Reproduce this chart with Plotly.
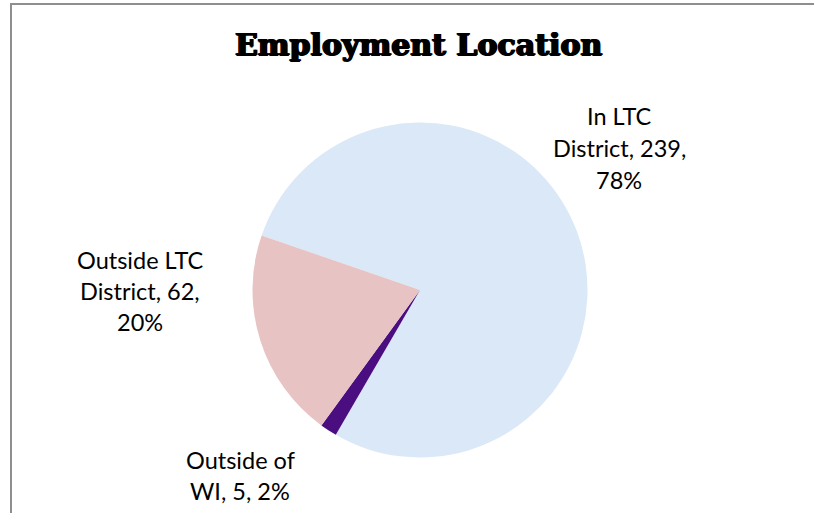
import plotly.graph_objects as go

# Employment location counts (clockwise order from the start angle)
categories = ["In LTC District", "Outside of WI", "Outside LTC District"]
counts = [239, 5, 62]
# line breaks used when printing each category's label
label_lines = [["In LTC", "District"], ["Outside of", "WI"], ["Outside LTC", "District"]]

colors = ["#DAE8F8", "#4A0E80", "#E8C3C3"]

W, H = 814, 513
total = sum(counts)
percents = [round(c / total * 100) for c in counts]

# pie geometry in pixels
cx, cy, r = 420, 290, 167.5

fig = go.Figure(
    go.Pie(
        labels=categories,
        values=counts,
        sort=False,
        direction="clockwise",
        rotation=-71,
        marker=dict(colors=colors, line=dict(width=0)),
        textinfo="none",
        hoverinfo="label+value+percent",
        domain=dict(x=[(cx - r) / W, (cx + r) / W],
                    y=[(H - cy - r) / H, (H - cy + r) / H]),
    )
)

# label anchor (x centre, y of first line) and line step, per category
label_pos = [(619, 116, 32), (240, 460, 31), (140, 260, 31)]

annotations = []
for lines, n, p, (lx, ly, step) in zip(label_lines, counts, percents, label_pos):
    if lines[0].startswith("Outside of"):
        rows = [lines[0], f"{lines[1]}, {n}, {p}%"]
    else:
        rows = [lines[0], f"{lines[1]}, {n},", f"{p}%"]
    for k, row in enumerate(rows):
        annotations.append(dict(
            text=row, x=lx / W, y=1 - (ly + k * step) / H,
            xref="paper", yref="paper", xanchor="center", yanchor="middle",
            showarrow=False, font=dict(family="Lato", size=23.5, color="#000000"),
        ))

annotations.append(dict(
    text="<b>Employment Location</b>", x=418 / W, y=1 - 44 / H,
    xref="paper", yref="paper", xanchor="center", yanchor="middle",
    showarrow=False,
    font=dict(family="DejaVu Serif", size=30, color="#000000",
              shadow="1px 0 0 #000, -1px 0 0 #000, 0 1px 0 #000"),
))

fig.update_layout(
    width=W, height=H,
    margin=dict(l=0, r=0, t=0, b=0),
    paper_bgcolor="white",
    showlegend=False,
    annotations=annotations,
    shapes=[
        dict(type="line", xref="paper", yref="paper",
             x0=11 / W, y0=0, x1=11 / W, y1=1 - 4 / H,
             line=dict(color="#8E8E8E", width=2)),
        dict(type="line", xref="paper", yref="paper",
             x0=10 / W, y0=1 - 4 / H, x1=1, y1=1 - 4 / H,
             line=dict(color="#8E8E8E", width=2)),
    ],
)

fig.write_html("out.html")
